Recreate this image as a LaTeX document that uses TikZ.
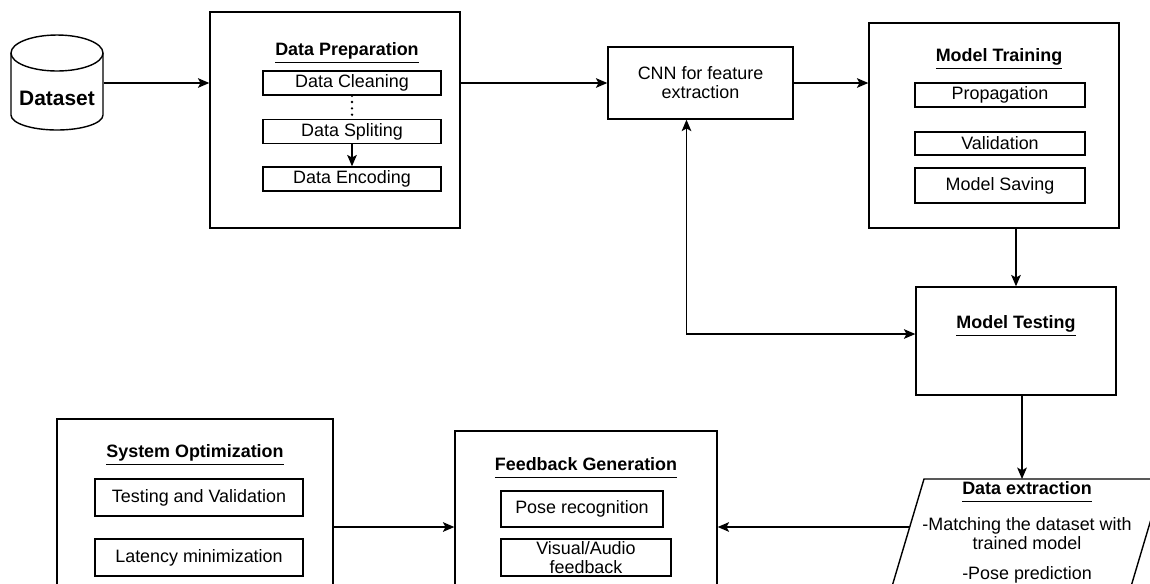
\documentclass[tikz,border=0pt]{standalone}
\usepackage{fontspec}
\setmainfont{Liberation Sans}
\usetikzlibrary{arrows.meta}
\newcommand\ultext[1]{\underline{#1\vphantom{g}}}

\begin{document}
\begin{tikzpicture}[x=0.02cm, y=-0.02cm, line width=0.8pt,
    frame/.style={draw, rectangle, inner sep=0pt},
    item/.style={draw, rectangle, inner sep=0pt, align=center, font=\fontsize{10.2}{10.6}\selectfont},
    title/.style={font=\fontsize{10.2}{12}\selectfont\bfseries},
    txt/.style={align=center, font=\fontsize{10.2}{10.8}\selectfont},
    arr/.style={-{Stealth[length=6.5pt, width=5.5pt, inset=1.5pt]}},
    arrboth/.style={{Stealth[length=6.5pt, width=5.5pt, inset=1.5pt]}-{Stealth[length=6.5pt, width=5.5pt, inset=1.5pt]}}]
  \useasboundingbox (0,0) rectangle (1150,583);
  \clip (0,0) rectangle (1150,583);

  % dataset
  \node [minimum width=1.84cm, minimum height=1.9cm] (dataset) at (57,83) {};
  \draw (57,53) ellipse [x radius=0.92cm, y radius=0.36cm];
  \draw (11,53) -- (11,115) arc [start angle=180, end angle=360, x radius=0.92cm, y radius=0.3cm] -- (103,53);
  \node [font=\fontsize{11.9}{14}\selectfont\bfseries] (datasetlabel) at (57,98) {Dataset};

  % data preparation
  \node [frame, minimum width=5cm, minimum height=4.32cm] (prep) at (335,120) {};
  \node [title] (preptitle) at (347,53) {\ultext{Data Preparation}};
  \node [item, minimum width=3.56cm, minimum height=0.48cm] (cleaning) at (352,83) {Data Cleaning};
  \node [item, minimum width=3.56cm, minimum height=0.48cm] (spliting) at (352,131.5) {Data Spliting};
  \node [item, minimum width=3.56cm, minimum height=0.48cm] (encoding) at (352,179) {Data Encoding};
  \draw [line width=1.5pt, line cap=round, dash pattern=on 0pt off 3.6pt] (cleaning) -- (spliting);
  \draw [arr] (spliting) -- (encoding);

  % cnn
  \node [frame, txt, minimum width=3.7cm, minimum height=1.44cm] (cnn) at (700.5,83) {CNN for feature\\extraction};

  % model training
  \node [frame, minimum width=5cm, minimum height=4.1cm] (training) at (994,125.5) {};
  \node [title] (trainingtitle) at (999,59) {\ultext{Model Training}};
  \node [item, minimum width=3.4cm, minimum height=0.48cm] (propagation) at (1000,95) {Propagation};
  \node [item, minimum width=3.4cm, minimum height=0.46cm] (validation) at (1000,143.5) {Validation};
  \node [item, minimum width=3.4cm, minimum height=0.7cm] (saving) at (1000,185.5) {Model Saving};

  % model testing
  \node [frame, minimum width=4cm, minimum height=2.16cm] (testing) at (1016,341) {};
  \node [title] (testingtitle) at (1016,326) {\ultext{Model Testing}};

  % data extraction
  \coordinate (exA) at (924,479);
  \coordinate (exB) at (1163,479);
  \coordinate (exC) at (1124,610);
  \coordinate (exD) at (885,610);
  \coordinate (exL) at (909.6,527);
  \draw (exA) -- (exB) -- (exC) -- (exD) -- cycle;
  \node [title] (extracttitle) at (1027,492) {\ultext{Data extraction}};
  \node [txt] (extractmatch) at (1027,533.5) {-Matching the dataset with\\trained model};
  \node [txt] (extractpose) at (1027,575) {-Pose prediction};

  % feedback generation
  \node [frame, minimum width=5.24cm, minimum height=4.18cm] (feedback) at (586,535.5) {};
  \node [title] (feedbacktitle) at (586,468) {\ultext{Feedback Generation}};
  \node [item, minimum width=3.24cm, minimum height=0.72cm] (recognition) at (582,509) {Pose recognition};
  \node [item, minimum width=3.4cm, minimum height=0.74cm] (visual) at (586,557.5) {Visual/Audio\\feedback};

  % system optimization
  \node [frame, minimum width=5.52cm, minimum height=4.42cm] (optim) at (195,529.5) {};
  \node [title] (optimtitle) at (195,455) {\ultext{System Optimization}};
  \node [item, minimum width=4.16cm, minimum height=0.74cm] (testval) at (199,497.5) {Testing and Validation};
  \node [item, minimum width=4.16cm, minimum height=0.74cm] (latency) at (199,557.5) {Latency minimization};

  % connectors
  \draw [arr] (dataset.east) -- (dataset.east -| prep.west);
  \draw [arr] (prep.east |- cnn.west) -- (cnn.west);
  \draw [arr] (cnn.east) -- (cnn.east -| training.west);
  \draw [arr] (testing.north |- training.south) -- (testing.north);
  \draw [arr] ([xshift=0.12cm]testing.south) -- ([xshift=0.12cm]testing.south |- exA);
  \draw [arrboth] ([xshift=-0.28cm]cnn.south) |- ([yshift=0.14cm]testing.west);
  \draw [arr] (exL) -- (exL -| feedback.east);
  \draw [arr] (optim.east |- exL) -- (feedback.west |- exL);
\end{tikzpicture}
\end{document}
